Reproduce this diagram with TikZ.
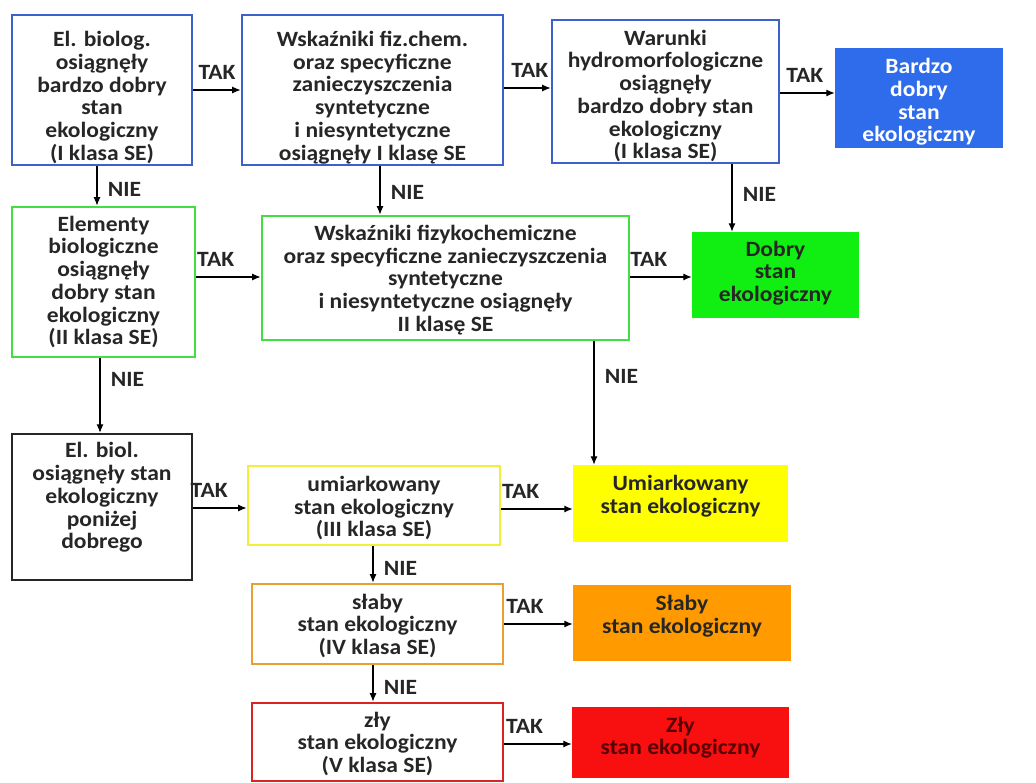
\documentclass[tikz,border=0pt]{standalone}
\usepackage{fontspec}
\setmainfont{Carlito}[FakeStretch=1.08]
\usetikzlibrary{arrows.meta,fit}
\definecolor{blueline}{HTML}{3C60CC}
\definecolor{greenline}{HTML}{44DD44}
\definecolor{yellowline}{HTML}{F2EE3A}
\definecolor{orangeline}{HTML}{E8A030}
\definecolor{redline}{HTML}{DD2222}
\definecolor{bluefill}{HTML}{2F6CEB}
\definecolor{greenfill}{HTML}{11EE11}
\definecolor{yellowfill}{HTML}{FFFF00}
\definecolor{orangefill}{HTML}{FF9A00}
\definecolor{redfill}{HTML}{F81010}
\begin{document}
\begin{tikzpicture}[x=0.025cm, y=-0.025cm,
		txt/.style={font=\fontsize{15.5}{16.2}\selectfont\bfseries, align=center, inner sep=0pt, text=black!85},
		frame/.style={draw, line width=2pt, inner sep=0pt},
		plain/.style={inner sep=0pt},
		arr/.style={-{Latex[length=6pt,width=5pt]}, line width=0.8pt},
		lab/.style={font=\fontsize{15.5}{16}\selectfont\bfseries, text=black!85}]
			%%%%% START %%%%%
			
			\useasboundingbox (0,0) rectangle (1036,782);
			
			% first row
			\node[frame, draw=blueline, fit={(12,15) (192,165)}, label={[txt, yshift=-5.3pt]center:{El. biolog.\\osiągnęły\\bardzo dobry\\stan\\ekologiczny\\(I klasa SE)}}] (B1) {};
			\node[frame, draw=blueline, fit={(242,15) (503,165)}, label={[txt, yshift=-5.3pt]center:{Wskaźniki fiz.chem.\\oraz specyficzne\\zanieczyszczenia\\syntetyczne\\i niesyntetyczne\\osiągnęły I klasę SE}}] (B2) {};
			\node[frame, draw=blueline, fit={(552,20) (779,163)}, label={[txt, yshift=-3.2pt]center:{Warunki\\hydromorfologiczne\\osiągnęły\\bardzo dobry stan\\ekologiczny\\(I klasa SE)}}] (B3) {};
			\node[plain, fill=bluefill, fit={(835,48) (1003,148)}, label={[txt, text=white, yshift=-2.8pt]center:{Bardzo\\dobry\\stan\\ekologiczny}}] (BD) {};
			
			% second row
			\node[frame, draw=greenline, fit={(12,207) (195,357)}, label={[txt]center:{Elementy\\biologiczne\\osiągnęły\\dobry stan\\ekologiczny\\(II klasa SE)}}] (G1) {};
			\node[frame, draw=greenline, fit={(262,216) (629,340)}, label={[txt, yshift=-1.4pt]center:{Wskaźniki fizykochemiczne\\oraz specyficzne zanieczyszczenia\\syntetyczne\\i niesyntetyczne osiągnęły\\II klasę SE}}] (G2) {};
			\node[plain, fill=greenfill, fit={(692,232) (859,318)}, label={[txt, yshift=1.4pt]center:{Dobry\\stan\\ekologiczny}}] (GD) {};
			
			% lower rows
			\node[frame, draw=black!85, line width=1.7pt, fit={(12,434) (192,580)}, label={[txt, yshift=6.7pt]center:{El. biol.\\osiągnęły stan\\ekologiczny\\poniżej\\dobrego}}] (K1) {};
			\node[frame, draw=yellowline, fit={(248,466) (500,545)}, label={[txt, yshift=-1.8pt]center:{umiarkowany\\stan ekologiczny\\(III klasa SE)}}] (Y1) {};
			\node[plain, fill=yellowfill, fit={(573,465) (788,542)}, label={[txt, yshift=5.3pt]center:{Umiarkowany\\stan ekologiczny}}] (YD) {};
			\node[frame, draw=orangeline, fit={(252,584) (503,664)}, label={[txt, yshift=-1.4pt]center:{słaby\\stan ekologiczny\\(IV klasa SE)}}] (O1) {};
			\node[plain, fill=orangefill, fit={(573,585) (791,661)}, label={[txt, yshift=5pt]center:{Słaby\\stan ekologiczny}}] (OD) {};
			\node[frame, draw=redline, fit={(252,703) (503,781)}, label={[txt, yshift=-1.4pt]center:{zły\\stan ekologiczny\\(V klasa SE)}}] (R1) {};
			\node[plain, fill=redfill, fit={(572,707) (789,778)}, label={[txt, text=red!35!black, yshift=3.5pt]center:{Zły\\stan ekologiczny}}] (RD) {};
			
			% TAK
			\draw[arr] (B1.east |- 0,90) -- node[lab, above=4pt, pos=.5] {TAK} (B2.west |- 0,90);
			\draw[arr] (B2.east |- 0,88) -- node[lab, above=4pt, pos=.55] {TAK} (B3.west |- 0,88);
			\draw[arr] (B3.east |- 0,93) -- node[lab, above=4pt, pos=.45] {TAK} (BD.west |- 0,93);
			\draw[arr] (G1.east |- 0,277) -- node[lab, above=4pt, pos=.3] {TAK} (G2.west |- 0,277);
			\draw[arr] (G2.east |- 0,277) -- node[lab, above=4pt, pos=.3] {TAK} (GD.west |- 0,277);
			\draw[arr] (K1.east |- 0,508) -- node[lab, above=4pt, pos=.3] {TAK} (Y1.west |- 0,508);
			\draw[arr] (Y1.east |- 0,509) -- node[lab, above=4pt, pos=.27] {TAK} (YD.west |- 0,509);
			\draw[arr] (O1.east |- 0,624) -- node[lab, above=4pt, pos=.3] {TAK} (OD.west |- 0,624);
			\draw[arr] (R1.east |- 0,744) -- node[lab, above=4pt, pos=.3] {TAK} (RD.west |- 0,744);
			
			% NIE
			\draw[arr] (B1.south -| 97,0) -- node[lab, right=4pt, pos=.6] {NIE} (G1.north -| 97,0);
			\draw[arr] (B2.south -| 380,0) -- node[lab, right=4pt, pos=.55] {NIE} (G2.north -| 380,0);
			\draw[arr] (B3.south -| 732,0) -- node[lab, right=4pt, pos=.45] {NIE} (GD.north -| 732,0);
			\draw[arr] (G1.south -| 100,0) -- node[lab, right=4pt, pos=.28] {NIE} (K1.north -| 100,0);
			\draw[arr] (G2.south -| 594,0) -- node[lab, right=4pt, pos=.28] {NIE} (YD.north -| 594,0);
			\draw[arr] (Y1.south -| 373,0) -- node[lab, right=4pt, pos=.6] {NIE} (O1.north -| 373,0);
			\draw[arr] (O1.south -| 373,0) -- node[lab, right=4pt, pos=.6] {NIE} (R1.north -| 373,0);
			
			%%%%% END %%%%%
\end{tikzpicture}
\end{document}
